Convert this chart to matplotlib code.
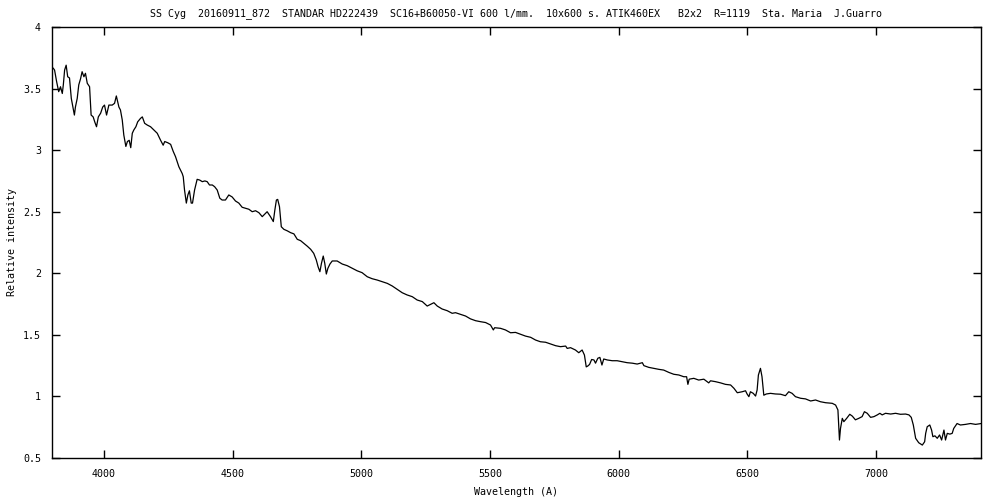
import matplotlib
matplotlib.use('Agg')
import matplotlib.pyplot as plt

# spectrum (wavelength in A, relative intensity)
wavelength = [
    3803, 3808, 3816, 3824, 3831, 3838, 3842, 3847, 3853, 3859, 3866, 3873, 3879, 3885,
    3889, 3896, 3902, 3909, 3915, 3922, 3928, 3935, 3944, 3950, 3958, 3964, 3971, 3978,
    3987, 3995, 4002, 4010, 4019, 4032, 4041, 4048, 4058, 4064, 4071, 4077, 4085, 4091,
    4098, 4104, 4110, 4116, 4124, 4131, 4142, 4149, 4158, 4168, 4181, 4194, 4207, 4220,
    4230, 4236, 4248, 4259, 4269, 4278, 4291, 4304, 4308, 4313, 4320, 4326, 4332, 4339,
    4344, 4352, 4362, 4372, 4382, 4392, 4401, 4410, 4421, 4430, 4440, 4450, 4459, 4472,
    4485, 4498, 4511, 4524, 4537, 4550, 4563, 4576, 4589, 4602, 4615, 4628, 4634, 4647,
    4658, 4664, 4670, 4675, 4682, 4689, 4699, 4712, 4725, 4738, 4751, 4764, 4777, 4790,
    4803, 4815, 4825, 4832, 4839, 4845, 4852, 4858, 4864, 4870, 4878, 4887, 4906, 4926,
    4945, 4965, 4984, 5003, 5023, 5042, 5062, 5081, 5101, 5120, 5139, 5159, 5178, 5198,
    5217, 5237, 5256, 5269, 5282, 5295, 5314, 5334, 5353, 5366, 5385, 5405, 5424, 5444,
    5463, 5483, 5502, 5513, 5518, 5541, 5560, 5580, 5599, 5619, 5638, 5658, 5677, 5696,
    5716, 5735, 5755, 5774, 5794, 5800, 5813, 5832, 5845, 5858, 5867, 5874, 5880, 5887,
    5895, 5904, 5910, 5919, 5927, 5935, 5942, 5956, 5975, 5994, 6014, 6033, 6053, 6072,
    6092, 6098, 6117, 6137, 6156, 6175, 6195, 6214, 6234, 6253, 6264, 6269, 6274, 6292,
    6311, 6331, 6350, 6357, 6376, 6396, 6415, 6435, 6448, 6461, 6480, 6493, 6499, 6506,
    6512, 6523, 6532, 6538, 6543, 6551, 6557, 6564, 6574, 6590, 6609, 6629, 6648, 6661,
    6674, 6687, 6707, 6726, 6746, 6765, 6784, 6804, 6830, 6843, 6852, 6856, 6858, 6862,
    6869, 6875, 6886, 6898, 6908, 6920, 6933, 6946, 6955, 6966, 6979, 6992, 7005, 7015,
    7024, 7037, 7057, 7076, 7095, 7115, 7128, 7137, 7145, 7154, 7166, 7180, 7189, 7193,
    7199, 7209, 7216, 7221, 7229, 7238, 7247, 7255, 7264, 7270, 7277, 7287, 7296, 7302,
    7315, 7328, 7348, 7367, 7387, 7409,
]
intensity = [
    3.665, 3.65, 3.556, 3.475, 3.515, 3.46, 3.53, 3.65, 3.69, 3.596, 3.586, 3.42, 3.35, 3.285,
    3.35, 3.42, 3.53, 3.58, 3.637, 3.596, 3.624, 3.543, 3.515, 3.285, 3.27, 3.23, 3.19, 3.27,
    3.30, 3.35, 3.366, 3.285, 3.366, 3.366, 3.38, 3.44, 3.35, 3.326, 3.245, 3.123, 3.03, 3.07,
    3.08, 3.02, 3.137, 3.164, 3.19, 3.23, 3.258, 3.27, 3.218, 3.204, 3.19, 3.164, 3.137, 3.08,
    3.04, 3.07, 3.06, 3.047, 2.99, 2.947, 2.865, 2.81, 2.784, 2.676, 2.57, 2.636, 2.67, 2.57,
    2.57, 2.676, 2.763, 2.757, 2.744, 2.75, 2.744, 2.717, 2.717, 2.703, 2.676, 2.61, 2.595, 2.595,
    2.636, 2.62, 2.587, 2.57, 2.536, 2.528, 2.52, 2.50, 2.508, 2.492, 2.46, 2.487, 2.50, 2.46,
    2.42, 2.514, 2.595, 2.60, 2.54, 2.378, 2.357, 2.345, 2.33, 2.32, 2.276, 2.265, 2.243, 2.22,
    2.195, 2.162, 2.108, 2.053, 2.013, 2.08, 2.14, 2.08, 1.994, 2.04, 2.075, 2.10, 2.10, 2.075,
    2.062, 2.04, 2.02, 2.005, 1.972, 1.956, 1.945, 1.932, 1.918, 1.897, 1.87, 1.842, 1.824, 1.81,
    1.783, 1.77, 1.734, 1.748, 1.761, 1.734, 1.71, 1.696, 1.675, 1.68, 1.667, 1.653, 1.63, 1.615,
    1.607, 1.60, 1.58, 1.54, 1.558, 1.553, 1.54, 1.517, 1.52, 1.505, 1.49, 1.48, 1.458, 1.444,
    1.44, 1.426, 1.412, 1.404, 1.409, 1.39, 1.396, 1.377, 1.355, 1.377, 1.336, 1.24, 1.247, 1.26,
    1.30, 1.296, 1.27, 1.31, 1.317, 1.255, 1.304, 1.296, 1.29, 1.29, 1.282, 1.274, 1.27, 1.263,
    1.274, 1.25, 1.236, 1.228, 1.22, 1.214, 1.195, 1.18, 1.174, 1.16, 1.16, 1.098, 1.14, 1.147,
    1.133, 1.14, 1.11, 1.127, 1.12, 1.11, 1.098, 1.093, 1.066, 1.03, 1.038, 1.046, 1.02, 0.998,
    1.038, 1.025, 1.003, 1.052, 1.174, 1.228, 1.16, 1.01, 1.02, 1.025, 1.02, 1.018, 1.006, 1.038,
    1.025, 0.998, 0.985, 0.98, 0.963, 0.971, 0.957, 0.949, 0.944, 0.93, 0.89, 0.727, 0.646, 0.74,
    0.822, 0.795, 0.822, 0.855, 0.84, 0.81, 0.822, 0.836, 0.876, 0.863, 0.83, 0.836, 0.85, 0.863,
    0.85, 0.863, 0.857, 0.863, 0.855, 0.857, 0.85, 0.83, 0.768, 0.66, 0.624, 0.605, 0.632, 0.70,
    0.754, 0.768, 0.727, 0.673, 0.68, 0.66, 0.687, 0.646, 0.727, 0.646, 0.70, 0.694, 0.70, 0.74,
    0.78, 0.768, 0.773, 0.78, 0.773, 0.78,
]

xticks = [4000, 4500, 5000, 5500, 6000, 6500, 7000]
yticks = [0.5, 1, 1.5, 2, 2.5, 3, 3.5, 4]
ytick_labels = ['0.5', '1', '1.5', '2', '2.5', '3', '3.5', '4']

title = ('SS Cyg  20160911_872  STANDAR HD222439  SC16+B60050-VI 600 l/mm.  '
         '10x600 s. ATIK460EX   B2x2  R=1119  Sta. Maria  J.Guarro')

plt.rcParams['font.family'] = 'DejaVu Sans Mono'
plt.rcParams['font.size'] = 7.2

fig = plt.figure(figsize=(10, 5), dpi=100)
ax = fig.add_axes([0.052, 0.084, 0.929, 0.862])

ax.plot(wavelength, intensity, color='black', linewidth=0.9)

ax.set_xlim(3798, 7408)
ax.set_ylim(0.5, 4)
ax.set_xticks(xticks)
ax.set_yticks(yticks)
ax.set_yticklabels(ytick_labels)
ax.tick_params(direction='in', length=6, width=1, top=True, right=True,
               labeltop=False, labelright=False, color='black')
ax.tick_params(axis='x', pad=8)
ax.tick_params(axis='y', pad=8)
for s in ax.spines.values():
    s.set_linewidth(1)
    s.set_color('black')

ax.set_title(title, fontsize=7.2, pad=8)
ax.set_xlabel('Wavelength (A)', labelpad=6)
ax.set_ylabel('Relative intensity', labelpad=4)

fig.savefig('out.png', dpi=100)
